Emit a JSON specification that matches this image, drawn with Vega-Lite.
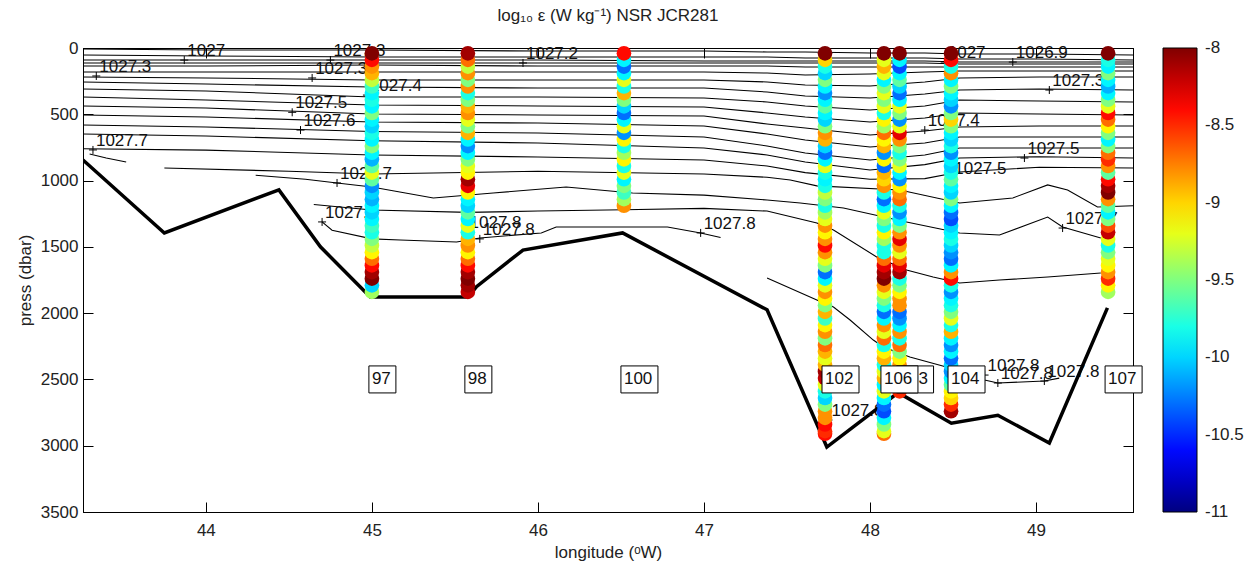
{
  "$schema": "https://vega.github.io/schema/vega-lite/v6.json",
  "width": 1050,
  "height": 464,
  "autosize": {"type": "none"},
  "padding": {"left": 83, "top": 48, "right": 121, "bottom": 58},
  "background": "white",
  "title": {"text": "log₁₀ ε (W kg⁻¹) NSR JCR281", "fontSize": 17, "fontWeight": "normal", "font": "Liberation Sans", "color": "#222", "offset": 14},
  "datasets": {
    "contours": [
      {"c": 1, "lon": [43.26,44.0,45.0,46.0,47.0,47.38,47.61,48.0,48.33,48.54,49.02,49.584], "p": [8,15,15,23,23,30,30,38,38,45,45,53]},
      {"c": 2, "lon": [43.26,44.0,45.0,46.0,47.0,47.38,47.61,48.0,48.33,48.54,49.02,49.584], "p": [53,60,68,68,68,68,75,75,75,83,83,91]},
      {"c": 3, "lon": [43.26,44.0,45.0,46.0,47.0,47.38,47.61,48.0,48.33,48.54,49.02,49.584], "p": [91,91,91,91,98,98,98,98,98,106,106,106]},
      {"c": 4, "lon": [43.26,44.0,45.0,46.0,47.0,47.38,47.61,48.0,48.33,48.54,49.02,49.584], "p": [113,113,113,113,113,113,113,113,113,121,121,121]},
      {"c": 5, "lon": [43.26,44.0,45.0,46.0,47.0,47.38,47.61,48.0,48.33,48.54,49.02,49.584], "p": [136,136,128,136,136,136,143,143,143,143,143,143]},
      {"c": 6, "lon": [43.26,44.0,45.0,46.0,47.0,47.38,47.61,48.0,48.33,48.54,49.02,49.584], "p": [181,181,181,181,181,189,204,196,181,173,173,173]},
      {"c": 7, "lon": [43.26,44.0,45.0,46.0,47.0,47.38,47.61,48.0,48.33,48.54,49.02,49.584], "p": [219,226,241,241,241,256,279,287,256,226,219,219]},
      {"c": 8, "lon": [43.26,44.0,45.0,46.0,47.0,47.38,47.61,48.0,48.33,48.54,49.02,49.584], "p": [256,272,294,302,302,332,362,377,347,317,309,317]},
      {"c": 9, "lon": [43.26,44.0,45.0,46.0,47.0,47.38,47.61,48.0,48.33,48.54,49.02,49.584], "p": [309,324,370,370,377,407,437,468,437,392,400,407]},
      {"c": 10, "lon": [43.26,44.0,45.0,46.0,47.0,47.38,47.61,48.0,48.33,48.54,49.02,49.584], "p": [370,392,430,437,445,490,520,558,528,490,498,505]},
      {"c": 11, "lon": [43.26,44.0,45.0,46.0,47.0,47.38,47.61,48.0,48.33,48.54,49.02,49.584], "p": [437,453,498,505,513,573,603,656,626,596,588,588]},
      {"c": 12, "lon": [43.26,44.0,45.0,46.0,47.0,47.38,47.61,48.0,48.33,48.54,49.02,49.584], "p": [505,520,558,566,588,649,694,747,717,671,671,671]},
      {"c": 13, "lon": [43.26,44.0,45.0,46.0,47.0,47.38,47.61,48.0,48.33,48.54,49.02,49.584], "p": [581,596,630,641,671,739,792,845,807,754,754,754]},
      {"c": 14, "lon": [43.26,44.0,45.0,46.0,47.0,47.38,47.61,48.0,48.33,48.54,49.02,49.584], "p": [649,664,700,717,754,807,860,920,880,830,820,830]},
      {"c": 15, "lon": [43.26,44.0,45.0,46.0,47.0,47.38,47.61,48.0,48.33,48.54,49.02,49.584], "p": [760,770,807,822,845,890,940,990,985,935,900,905]},
      {"c": 16, "lon": [43.75,44.5,45.0,46.0,47.0,47.38,47.52,47.68,48.18,48.54,48.86,49.07,49.19,49.37,49.584], "p": [905,930,950,930,950,975,996,1040,1071,1169,1131,1033,1071,1199,1190]},
      {"c": 17, "lon": [44.3,44.6,44.79,45.0,45.37,45.73,46.17,46.57,47.0,47.38,47.58,47.84,48.22,48.54,48.78,49.07,49.16,49.39], "p": [960,990,1018,1048,1131,1094,1048,1094,1110,1147,1169,1207,1312,1395,1411,1275,1350,1433]},
      {"c": 18, "lon": [44.65,45.0,45.58,46.0,46.52,47.0,47.38,47.68,47.78,48.04,48.22,48.38,48.54,48.78,49.07,49.39], "p": [1180,1222,1240,1230,1220,1210,1230,1320,1373,1576,1674,1727,1773,1750,1727,1697]},
      {"c": 19, "lon": [44.7,44.76,45.0,45.17,45.51,45.65,46.02,46.11,46.78,46.98,47.1], "p": [1312,1375,1440,1448,1463,1433,1395,1350,1350,1395,1430]},
      {"c": 20, "lon": [47.38,47.68,47.78,47.88,48.02,48.08,48.24,48.46,48.69,48.77,49.05,49.14], "p": [1735,1901,1954,2052,2203,2255,2331,2406,2504,2527,2512,2490]},
      {"c": 21, "lon": [43.3,43.4,43.52], "p": [800,830,860]}
    ],
    "clabels": [
      {"t": "1027.5", "lon": 44.52, "p": 485},
      {"t": "1027.6", "lon": 44.57, "p": 619},
      {"t": "1027.7", "lon": 43.32, "p": 769},
      {"t": "1027.7", "lon": 44.79, "p": 1018},
      {"t": "1027.8", "lon": 44.7, "p": 1312},
      {"t": "1027.8", "lon": 45.57, "p": 1390},
      {"t": "1027.8", "lon": 45.65, "p": 1440},
      {"t": "1027.8", "lon": 46.98, "p": 1395},
      {"t": "1027.3", "lon": 43.34, "p": 211},
      {"t": "1027", "lon": 43.87, "p": 91},
      {"t": "1027.3", "lon": 44.75, "p": 91},
      {"t": "1027.3", "lon": 44.64, "p": 226},
      {"t": "1027.4", "lon": 44.97, "p": 355},
      {"t": "1027.2", "lon": 45.91, "p": 113},
      {"t": "1027", "lon": 48.45, "p": 106},
      {"t": "1026.9", "lon": 48.86, "p": 106},
      {"t": "1027.3", "lon": 49.08, "p": 317},
      {"t": "1027.4", "lon": 48.33, "p": 619},
      {"t": "1027.5", "lon": 48.49, "p": 981},
      {"t": "1027.5", "lon": 48.93, "p": 830},
      {"t": "1027.7", "lon": 49.16, "p": 1358},
      {"t": "1027.8", "lon": 47.75, "p": 2806},
      {"t": "1027.8", "lon": 48.69, "p": 2467},
      {"t": "1027.8", "lon": 48.77, "p": 2527},
      {"t": "1027.8", "lon": 49.05, "p": 2512}
    ],
    "bathy": [
      {"lon": 43.26, "p": 845}, {"lon": 43.75, "p": 1395}, {"lon": 44.44, "p": 1070}, {"lon": 44.69, "p": 1500},
      {"lon": 44.96, "p": 1840}, {"lon": 44.99, "p": 1878}, {"lon": 45.58, "p": 1878}, {"lon": 45.63, "p": 1800},
      {"lon": 45.91, "p": 1524}, {"lon": 46.51, "p": 1395}, {"lon": 47.38, "p": 1975}, {"lon": 47.74, "p": 3010},
      {"lon": 48.17, "p": 2600}, {"lon": 48.49, "p": 2830}, {"lon": 48.77, "p": 2770}, {"lon": 49.08, "p": 2980},
      {"lon": 49.43, "p": 1960}
    ],
    "eps": [
      {"stn": "97", "lon": 45.0,
       "p": [40,90,140,190,240,290,340,390,440,490,540,590,640,690,740,790,840,890,940,990,1040,1090,1140,1190,1240,1290,1340,1390,1440,1490,1540,1590,1640,1690,1740,1790,1840],
       "e": [-8.0,-8.4,-8.8,-8.9,-9.3,-9.7,-9.9,-9.8,-9.9,-9.5,-9.9,-10.0,-9.8,-9.9,-9.5,-9.9,-10.1,-9.6,-9.2,-9.6,-10.2,-10.0,-10.1,-9.9,-10.0,-9.9,-9.7,-9.8,-9.5,-9.3,-9.1,-8.7,-8.4,-8.1,-8.0,-10.0,-9.4]},
      {"stn": "98", "lon": 45.578,
       "p": [40,90,140,190,240,290,340,390,440,490,540,590,640,690,740,790,840,890,940,990,1040,1090,1140,1190,1240,1290,1340,1390,1440,1490,1540,1590,1640,1690,1740,1790,1840],
       "e": [-8.1,-8.7,-9.3,-8.8,-9.5,-8.8,-9.8,-9.5,-8.9,-8.8,-9.2,-9.5,-8.9,-9.9,-10.2,-9.9,-9.5,-9.2,-9.1,-8.1,-8.3,-9.1,-9.9,-10.0,-9.6,-9.9,-9.2,-9.8,-8.9,-8.8,-9.1,-8.7,-8.4,-8.1,-8.0,-8.1,-8.2]},
      {"stn": "100", "lon": 46.518,
       "p": [40,90,140,190,240,290,340,390,440,490,540,590,640,690,740,790,840,890,940,990,1040,1090,1140,1190],
       "e": [-8.4,-9.9,-10.3,-9.9,-9.2,-9.8,-8.9,-9.5,-10.0,-10.3,-9.9,-9.2,-10.2,-9.1,-9.8,-9.4,-9.1,-9.8,-9.2,-9.9,-9.5,-9.7,-9.4,-8.8]},
      {"stn": "102", "lon": 47.729,
       "p": [40,90,140,190,240,290,340,390,440,490,540,590,640,690,740,790,840,890,940,990,1040,1090,1140,1190,1240,1290,1340,1390,1440,1490,1540,1590,1640,1690,1740,1790,1840,1890,1940,1990,2040,2090,2140,2190,2240,2290,2340,2390,2440,2490,2540,2590,2640,2690,2740,2790,2840,2890,2910],
       "e": [-8.0,-9.0,-9.8,-10.0,-9.5,-9.9,-10.2,-9.9,-9.6,-9.9,-10.0,-9.5,-8.8,-8.9,-10.0,-10.3,-9.9,-9.2,-9.8,-9.9,-9.8,-9.3,-9.5,-9.8,-9.4,-9.2,-8.8,-9.1,-8.8,-8.4,-8.8,-9.2,-9.5,-10.3,-9.9,-9.2,-8.8,-9.1,-9.5,-8.9,-9.7,-9.1,-8.8,-9.5,-8.7,-8.9,-9.2,-8.9,-8.1,-8.2,-9.2,-9.8,-10.0,-9.5,-8.8,-8.8,-8.4,-8.5,-8.4]},
      {"stn": "106", "lon": 48.084,
       "p": [40,90,140,190,240,290,340,390,440,490,540,590,640,690,740,790,840,890,940,990,1040,1090,1140,1190,1240,1290,1340,1390,1440,1490,1540,1590,1640,1690,1740,1790,1840,1890,1940,1990,2040,2090,2140,2190,2240,2290,2340,2390,2440,2490,2540,2590,2640,2690,2740,2790,2840,2890,2910],
       "e": [-8.0,-9.2,-8.9,-9.2,-9.9,-9.5,-9.2,-9.5,-9.2,-9.8,-9.1,-9.4,-8.7,-9.1,-8.9,-10.2,-9.1,-10.3,-8.9,-9.0,-8.8,-9.8,-10.3,-9.9,-9.2,-9.5,-9.8,-9.1,-9.4,-9.8,-9.8,-8.7,-8.3,-8.1,-8.0,-8.8,-9.2,-9.5,-9.8,-10.3,-9.9,-8.8,-9.2,-8.7,-9.8,-9.1,-8.9,-9.8,-9.2,-8.9,-9.9,-9.2,-9.9,-10.3,-10.4,-9.9,-9.5,-9.2,-8.7]},
      {"stn": "103", "lon": 48.178,
       "p": [40,90,140,190,240,290,340,390,440,490,540,590,640,690,740,790,840,890,940,990,1040,1090,1140,1190,1240,1290,1340,1390,1440,1490,1540,1590,1640,1690,1740,1790,1840,1890,1940,1990,2040,2090,2140,2190,2240,2290,2340,2390,2440,2490,2540,2590],
       "e": [-8.0,-9.9,-10.4,-9.9,-9.6,-10.0,-10.3,-9.9,-9.2,-9.5,-10.2,-9.2,-8.3,-8.8,-9.5,-9.8,-9.5,-9.2,-9.9,-10.2,-9.1,-8.8,-8.7,-9.8,-10.2,-9.9,-9.5,-8.8,-8.3,-8.8,-9.2,-8.7,-8.3,-8.1,-9.8,-9.5,-9.1,-8.8,-8.8,-10.3,-10.2,-9.9,-8.8,-9.8,-8.7,-9.5,-9.1,-8.8,-9.8,-9.2,-8.8,-8.5]},
      {"stn": "104", "lon": 48.488,
       "p": [40,90,140,190,240,290,340,390,440,490,540,590,640,690,740,790,840,890,940,990,1040,1090,1140,1190,1240,1290,1340,1390,1440,1490,1540,1590,1640,1690,1740,1790,1840,1890,1940,1990,2040,2090,2140,2190,2240,2290,2340,2390,2440,2490,2540,2590,2640,2690,2740],
       "e": [-8.0,-8.4,-9.8,-8.8,-9.9,-9.5,-9.9,-10.0,-10.2,-9.5,-9.0,-9.5,-9.9,-10.0,-9.8,-10.2,-9.9,-10.0,-9.8,-9.6,-9.9,-10.0,-9.5,-9.9,-10.3,-10.4,-10.0,-9.9,-9.8,-10.0,-10.2,-10.3,-9.9,-8.8,-8.4,-9.8,-10.2,-9.9,-9.8,-9.5,-9.2,-9.8,-8.9,-9.9,-10.2,-9.9,-10.3,-10.0,-10.2,-9.9,-9.6,-9.1,-9.0,-8.5,-8.1]},
      {"stn": "107", "lon": 49.434,
       "p": [40,90,140,190,240,290,340,390,440,490,540,590,640,690,740,790,840,890,940,990,1040,1090,1140,1190,1240,1290,1340,1390,1440,1490,1540,1590,1640,1690,1740,1790,1840],
       "e": [-8.0,-9.8,-9.9,-9.5,-9.9,-10.1,-9.9,-9.5,-9.2,-8.4,-8.7,-9.1,-9.5,-9.9,-9.5,-8.7,-8.5,-8.8,-9.6,-8.4,-8.1,-8.0,-8.8,-9.6,-9.9,-9.5,-8.6,-8.2,-9.2,-9.8,-9.5,-9.2,-9.1,-8.8,-8.5,-9.1,-9.4]}
    ],
    "stations": [
      {"stn": "97", "lon": 45.0, "p": 2500},
      {"stn": "98", "lon": 45.578, "p": 2500},
      {"stn": "100", "lon": 46.518, "p": 2500},
      {"stn": "102", "lon": 47.729, "p": 2500},
      {"stn": "103", "lon": 48.178, "p": 2500},
      {"stn": "106", "lon": 48.084, "p": 2500},
      {"stn": "104", "lon": 48.488, "p": 2500},
      {"stn": "107", "lon": 49.434, "p": 2500}
    ]
  },
  "layer": [
    {
      "data": {"name": "contours"},
      "transform": [{"flatten": ["lon", "p"]}],
      "mark": {"type": "line", "stroke": "black", "strokeWidth": 1.1, "clip": true},
      "encoding": {
        "x": {"field": "lon", "type": "quantitative",
              "scale": {"domain": [43.26, 49.584], "nice": false, "zero": false},
              "axis": {"orient": "bottom", "values": [44, 45, 46, 47, 48, 49], "format": "d", "title": "longitude (ᵒW)", "tickSize": -10, "labelPadding": 20, "titleY": 40, "titleBaseline": "middle"}},
        "y": {"field": "p", "type": "quantitative",
              "scale": {"domain": [0, 3500], "reverse": true, "nice": false, "zero": false},
              "axis": {"orient": "left", "values": [0, 500, 1000, 1500, 2000, 2500, 3000, 3500], "format": "d", "title": "press (dbar)", "tickSize": -10, "labelPadding": 15, "titleX": -58, "titleY": 232, "titleAngle": -90, "titleAlign": "center", "titleBaseline": "middle"}},
        "detail": {"field": "c", "type": "nominal"}
      }
    },
    {
      "data": {"name": "clabels"},
      "mark": {"type": "point", "shape": "M-1,0H1M0,-1V1", "size": 64, "filled": false, "stroke": "black", "strokeWidth": 1, "opacity": 1},
      "encoding": {
        "x": {"field": "lon", "type": "quantitative", "axis": null},
        "y": {"field": "p", "type": "quantitative", "axis": null}
      }
    },
    {
      "data": {"name": "clabels"},
      "mark": {"type": "text", "align": "left", "baseline": "alphabetic", "dx": 3, "dy": -4, "fontSize": 17, "font": "Liberation Sans", "color": "#111"},
      "encoding": {
        "x": {"field": "lon", "type": "quantitative", "axis": null},
        "y": {"field": "p", "type": "quantitative", "axis": null},
        "text": {"field": "t"}
      }
    },
    {
      "data": {"name": "bathy"},
      "mark": {"type": "line", "stroke": "black", "strokeWidth": 3.5, "clip": true},
      "encoding": {
        "x": {"field": "lon", "type": "quantitative",
              "axis": {"orient": "top", "values": [44, 45, 46, 47, 48, 49], "labels": false, "title": null, "tickSize": -10}},
        "y": {"field": "p", "type": "quantitative",
              "axis": {"orient": "right", "values": [0, 500, 1000, 1500, 2000, 2500, 3000, 3500], "labels": false, "title": null, "tickSize": -10}}
      }
    },
    {
      "data": {"name": "eps"},
      "transform": [{"flatten": ["p", "e"]}],
      "mark": {"type": "circle", "size": 215, "opacity": 1, "stroke": null},
      "encoding": {
        "x": {"field": "lon", "type": "quantitative", "axis": null},
        "y": {"field": "p", "type": "quantitative", "axis": null},
        "order": {"field": "p", "type": "quantitative", "sort": "descending"},
        "color": {"field": "e", "type": "quantitative",
                  "scale": {"domain": [-11, -10.625, -9.875, -9.125, -8.375, -8], "range": ["#000080", "#0000ff", "#00ffff", "#ffff00", "#ff0000", "#800000"], "clamp": true, "interpolate": "rgb"},
                  "legend": {"orient": "none", "legendX": 1080, "legendY": 0, "direction": "vertical", "title": null,
                             "gradientLength": 464, "gradientThickness": 34, "gradientStrokeColor": "black", "gradientStrokeWidth": 1,
                             "values": [-8.0001, -8.5, -9, -9.5, -10, -10.5, -10.9999], "labelExpr": "'' + round(datum.value * 10) / 10",
                             "labelFontSize": 17, "labelFont": "Liberation Sans", "labelColor": "#222", "labelBaseline": "middle", "labelOffset": 8, "labelOverlap": false}}
      }
    },
    {
      "data": {"name": "stations"},
      "transform": [{"filter": "datum.stn == '103'"}],
      "mark": {"type": "point", "size": 1296, "filled": true, "fill": "white", "stroke": "black", "strokeWidth": 1, "opacity": 1, "shape": "M-0.167,-0.75H1.889V0.75H-0.167Z"},
      "encoding": {
        "x": {"field": "lon", "type": "quantitative", "axis": null},
        "y": {"field": "p", "type": "quantitative", "axis": null}
      }
    },
    {
      "data": {"name": "stations"},
      "transform": [{"filter": "datum.stn == '103'"}],
      "mark": {"type": "text", "align": "left", "baseline": "middle", "dx": 0, "fontSize": 17, "font": "Liberation Sans", "color": "#111"},
      "encoding": {
        "x": {"field": "lon", "type": "quantitative", "axis": null},
        "y": {"field": "p", "type": "quantitative", "axis": null},
        "text": {"field": "stn"}
      }
    },
    {
      "data": {"name": "stations"},
      "transform": [{"filter": "datum.stn != '103'"}],
      "mark": {"type": "point", "size": 1296, "filled": true, "fill": "white", "stroke": "black", "strokeWidth": 1, "opacity": 1},
      "encoding": {
        "x": {"field": "lon", "type": "quantitative", "axis": null},
        "y": {"field": "p", "type": "quantitative", "axis": null},
        "shape": {"condition": {"test": "length(datum.stn) < 3", "value": "M-0.167,-0.75H1.333V0.75H-0.167Z"}, "value": "M-0.167,-0.75H1.889V0.75H-0.167Z"}
      }
    },
    {
      "data": {"name": "stations"},
      "transform": [{"filter": "datum.stn != '103'"}],
      "mark": {"type": "text", "align": "left", "baseline": "middle", "dx": 0, "fontSize": 17, "font": "Liberation Sans", "color": "#111"},
      "encoding": {
        "x": {"field": "lon", "type": "quantitative", "axis": null},
        "y": {"field": "p", "type": "quantitative", "axis": null},
        "text": {"field": "stn"}
      }
    }
  ],
  "resolve": {"axis": {"x": "independent", "y": "independent"}},
  "config": {
    "view": {"stroke": "black", "strokeWidth": 1},
    "axis": {"grid": false, "domainColor": "black", "domainWidth": 1, "tickColor": "black", "tickWidth": 1,
             "labelColor": "#222", "titleColor": "#222", "labelFont": "Liberation Sans", "titleFont": "Liberation Sans",
             "labelFontSize": 17, "titleFontSize": 17, "titleFontWeight": "normal"}
  }
}
